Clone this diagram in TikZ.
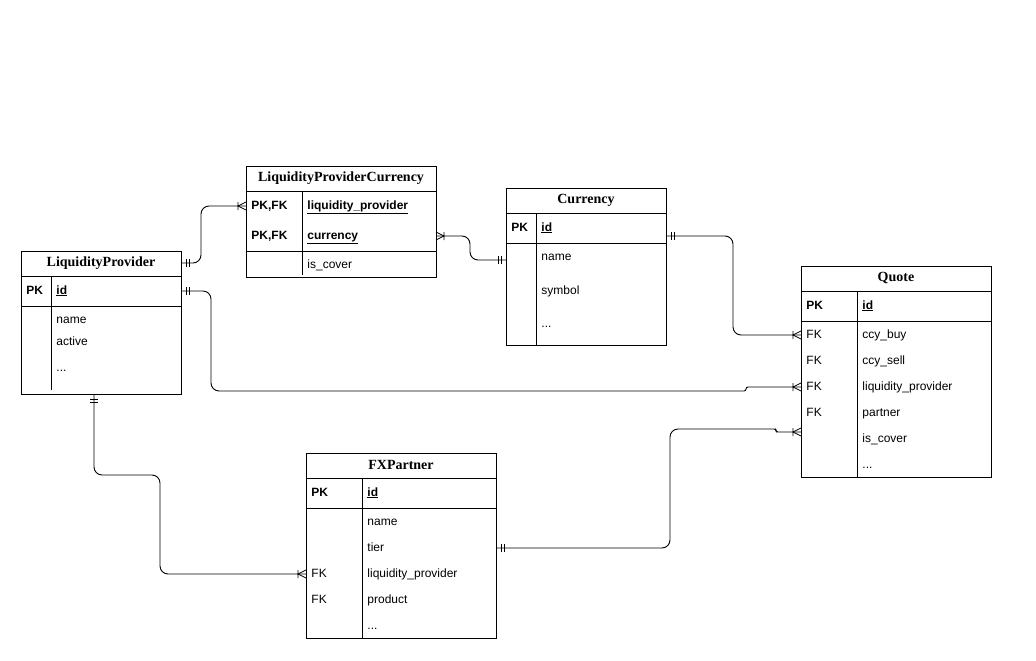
\documentclass[tikz,border=0pt]{standalone}
\usepackage{fontspec}
\setmainfont{Liberation Sans}
\newfontfamily\headfont{Liberation Serif}
\usepackage{tikz}
\usetikzlibrary{calc, decorations.markings}

\tikzset{
  tbl/.style={draw, inner sep=0pt, outer sep=0pt, anchor=north west},
  hdr/.style={font=\headfont\bfseries\fontsize{14}{16}\selectfont, inner sep=0pt},
  fld/.style={font=\fontsize{12}{14}\selectfont, anchor=west, inner sep=0pt, text height=9pt, text depth=3pt},
  key/.style={fld, font=\bfseries\fontsize{12}{14}\selectfont},
  conn/.style={rounded corners=8pt},
  tip/.style={line width=0.8pt, sharp corners},
  oneS/.style={postaction={decorate, decoration={markings, mark=at position 0 with {\draw[tip] (5pt,-4pt) -- (5pt,4pt) (8pt,-4pt) -- (8pt,4pt);}}}},
  oneE/.style={postaction={decorate, decoration={markings, mark=at position 1 with {\draw[tip] (-5pt,-4pt) -- (-5pt,4pt) (-8pt,-4pt) -- (-8pt,4pt);}}}},
  manyS/.style={postaction={decorate, decoration={markings, mark=at position 0 with {\draw[tip] (0pt,4pt) -- (8pt,0pt) -- (0pt,-4pt) (8pt,-4pt) -- (8pt,4pt);}}}},
  manyE/.style={postaction={decorate, decoration={markings, mark=at position 1 with {\draw[tip] (0pt,4pt) -- (-8pt,0pt) -- (0pt,-4pt) (-8pt,-4pt) -- (-8pt,4pt);}}}}
}

\begin{document}
\begin{tikzpicture}[x=1pt, y=-1pt, line width=0.9pt]
\useasboundingbox (0,0) rectangle (1036,661);

\node[tbl, minimum width=160, minimum height=143] (lp) at (21,251) {};
\node[hdr] (lp-t) at (101,263) {LiquidityProvider};
\draw (21,276) -- (181,276);
\draw (21,306) -- (181,306);
\draw (51,276) -- (51,390);
\node[key] (lp-pk) at (26,291) {PK};
\node[key] (lp-id) at (56,291) {\underline{id}};
\node[fld] (lp-name) at (56,320) {name};
\node[fld] (lp-act) at (56,342) {active};
\node[fld] (lp-etc) at (56,368) {...};

\node[tbl, minimum width=190, minimum height=111] (lpc) at (246,166) {};
\node[hdr] (lpc-t) at (341,178) {LiquidityProviderCurrency};
\draw (246,191) -- (436,191);
\draw (246,251) -- (436,251);
\draw (302,191) -- (302,275);
\node[key] (lpc-pk1) at (251,206) {PK,FK};
\node[key] (lpc-lp) at (307,206) {\underline{liquidity\_provider}};
\node[key] (lpc-pk2) at (251,236) {PK,FK};
\node[key] (lpc-ccy) at (307,236) {\underline{currency}};
\node[fld] (lpc-cov) at (307,265) {is\_cover};

\node[tbl, minimum width=160, minimum height=157] (cur) at (506,188) {};
\node[hdr] (cur-t) at (586,200) {Currency};
\draw (506,213) -- (666,213);
\draw (506,243) -- (666,243);
\draw (536,213) -- (536,345);
\node[key] (cur-pk) at (511,228) {PK};
\node[key] (cur-id) at (541,228) {\underline{id}};
\node[fld] (cur-name) at (541,257) {name};
\node[fld] (cur-sym) at (541,291) {symbol};
\node[fld] (cur-etc) at (541,324) {...};

\node[tbl, minimum width=190, minimum height=211] (q) at (801,266) {};
\node[hdr] (q-t) at (896,278) {Quote};
\draw (801,291) -- (991,291);
\draw (801,321) -- (991,321);
\draw (857,291) -- (857,477);
\node[key] (q-pk) at (806,306) {PK};
\node[key] (q-id) at (862,306) {\underline{id}};
\node[fld] (q-fk1) at (806,335) {FK};
\node[fld] (q-buy) at (862,335) {ccy\_buy};
\node[fld] (q-fk2) at (806,361) {FK};
\node[fld] (q-sell) at (862,361) {ccy\_sell};
\node[fld] (q-fk3) at (806,387) {FK};
\node[fld] (q-lp) at (862,387) {liquidity\_provider};
\node[fld] (q-fk4) at (806,413) {FK};
\node[fld] (q-part) at (862,413) {partner};
\node[fld] (q-cov) at (862,439) {is\_cover};
\node[fld] (q-etc) at (862,465) {...};

\node[tbl, minimum width=190, minimum height=185] (fx) at (306,453) {};
\node[hdr] (fx-t) at (401,465) {FXPartner};
\draw (306,478) -- (496,478);
\draw (306,508) -- (496,508);
\draw (362,478) -- (362,638);
\node[key] (fx-pk) at (311,493) {PK};
\node[key] (fx-id) at (367,493) {\underline{id}};
\node[fld] (fx-name) at (367,522) {name};
\node[fld] (fx-tier) at (367,548) {tier};
\node[fld] (fx-fk1) at (311,574) {FK};
\node[fld] (fx-lp) at (367,574) {liquidity\_provider};
\node[fld] (fx-fk2) at (311,600) {FK};
\node[fld] (fx-prod) at (367,600) {product};
\node[fld] (fx-etc) at (367,626) {...};

\draw[conn, oneS, manyE] (lp.east |- lp-t) -- ++(20,0) |- (lpc.west |- lpc-lp);
\draw[conn, manyS, oneE] (lpc.east |- lpc-ccy) -- ++(34,0) |- ($(cur.west |- cur-name)+(0,3)$);
\draw[conn, oneS, manyE] ($(cur.east |- cur-id)+(0,8)$) -- ++(67,0) |- (q.west |- q-buy);
\draw[conn, oneS, manyE] (lp.east |- lp-id) -- ++(30,0) -- ++(0,100) [rounded corners=2pt] -- ++(535,0) |- (q.west |- q-lp);
\draw[conn, oneS, manyE] ([xshift=-7pt]lp.south) -- ++(0,81) -- ++(66,0) |- (fx.west |- fx-lp);
\draw[conn, oneS, manyE] (fx.east |- fx-tier) -- ++(174,0) -- ++(0,-119) [rounded corners=2pt] -- ++(106,0) |- ($(q.west |- q-cov)+(0,-7)$);
\end{tikzpicture}
\end{document}
